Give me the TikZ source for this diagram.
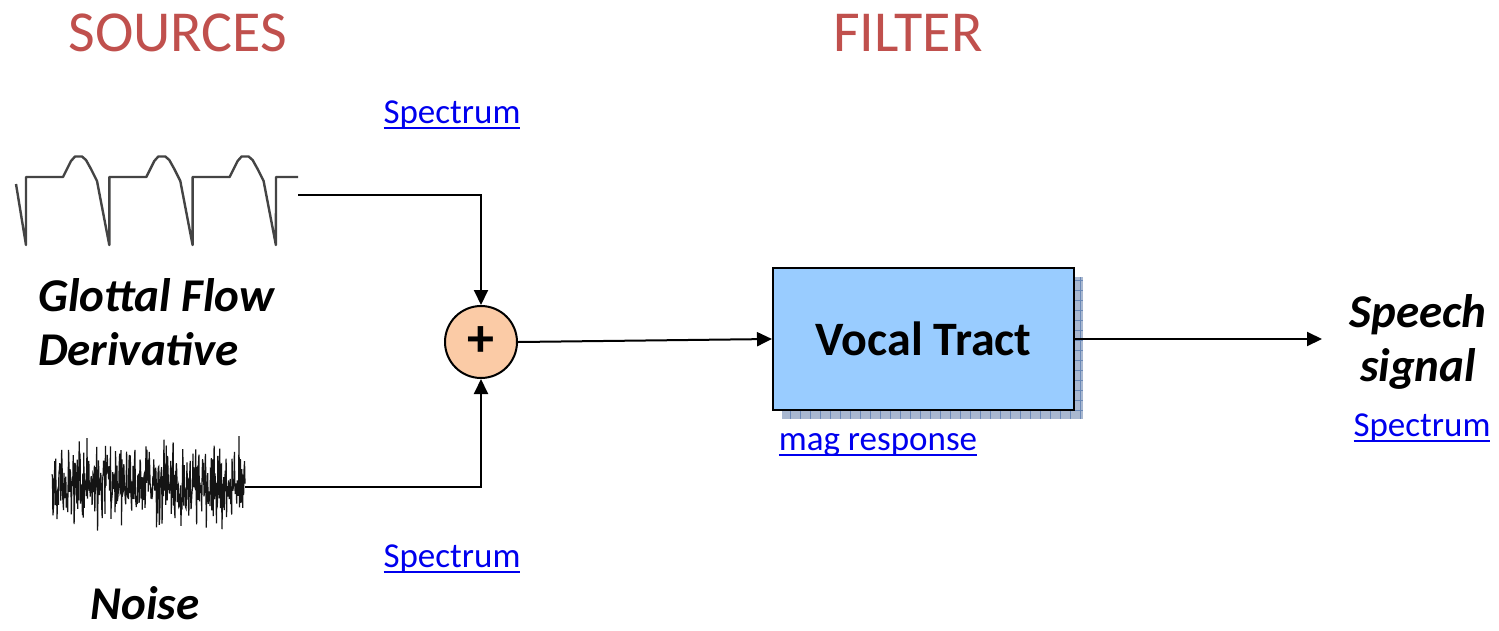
\documentclass[tikz,border=0pt]{standalone}
\usepackage{fontspec}
\setmainfont{Carlito}
\usetikzlibrary{arrows.meta}
\definecolor{srcred}{HTML}{C0504D}
\definecolor{linkblue}{HTML}{0000EE}
\definecolor{sumfill}{HTML}{FBCBA6}
\definecolor{boxfill}{HTML}{99CCFF}
\definecolor{shadowfill}{HTML}{A9B8D0}
\definecolor{shadowgrid}{HTML}{6A88B6}
\definecolor{glotgray}{HTML}{444444}
\newsavebox{\myulbox}
\newcommand{\myul}[1]{\sbox{\myulbox}{#1}\rlap{\rule[-5pt]{\wd\myulbox}{2pt}}\usebox{\myulbox}}
\begin{document}
\begin{tikzpicture}[x=1pt,y=-1pt,
  title/.style={text=srcred,font=\fontsize{58}{62}\selectfont,inner sep=0pt},
  link/.style={text=linkblue,font=\fontsize{35}{38}\selectfont,inner sep=0pt},
  lbl/.style={font=\bfseries\itshape\fontsize{47}{54}\selectfont,inner sep=0pt},
  conn/.style={line width=2pt,-{Triangle[length=15pt,width=14pt]}},
  glot/.style={glotgray,line width=2.4pt,line join=round},
  noisy/.style={black!92,line width=1.2pt,line join=miter}]
\useasboundingbox (0,0) rectangle (1499,630);
\fill[white] (0,0) rectangle (1499,630);

% titles
\node[title] (sources) at (178,33) {SOURCES};
\node[title] (filter) at (908,33) {FILTER};

% links
\node[link] (spec1) at (452,115) {\myul{Spectrum}};
\node[link] (spec2) at (452,559) {\myul{Spectrum}};
\node[link] (spec3) at (1422,428) {\myul{Spectrum}};
\node[link] (mag) at (878,445) {\myul{mag response}};

% labels
\node[lbl,anchor=west,align=left] (glotlbl) at (38,322) {Glottal Flow\\Derivative};
\node[lbl] (noiselbl) at (145,603) {Noise};
\node[lbl,align=center] (speech) at (1418,342) {Speech\\signal};

% glottal flow derivative waveform
\draw[glot] (16,184) -- (26,245)
  foreach \a in {26,109.3,192.6}{
    -- (\a,177) -- ({\a+37},177) -- ({\a+41},169) -- ({\a+45},161) -- ({\a+49},156.5) -- ({\a+56},156.5)
    -- ({\a+60},160) -- ({\a+65},169) -- ({\a+71},181) -- ({\a+83.3},245)}
  -- (276,177) -- (298,177);
\coordinate (gend) at (298,195);

% noise waveform
\pgfmathsetseed{11}
\draw[noisy] plot[domain=52:245,samples=420] (\x,{486+19*(rand+rand+rand)});
\coordinate (nend) at (245,487);

% summing junction
\node[circle,draw,line width=2pt,fill=sumfill,minimum size=72pt,inner sep=0pt,
      font=\bfseries\fontsize{54}{54}\selectfont] (sum) at (481,342) {+};

% vocal tract with shadow
\fill[shadowfill] (782,277) rectangle (1083,419);
\begin{scope}
  \clip (782,277) rectangle (1083,419);
  \draw[shadowgrid,line width=0.6pt,step=10pt] (782,277) grid (1083,419);
\end{scope}
\node[draw,line width=2pt,fill=boxfill,minimum width=301pt,minimum height=142pt,
      inner sep=0pt,font=\bfseries\fontsize{48}{52}\selectfont] (vt) at (923.5,339) {Vocal Tract};
\coordinate (out) at (1322,339);

% connectors
\draw[conn] (gend) -| (sum.north);
\draw[conn] (nend) -| (sum.south);
\draw[conn] (sum.east) -- (vt.west);
\draw[conn] (vt.east) -- (out);
\end{tikzpicture}
\end{document}
